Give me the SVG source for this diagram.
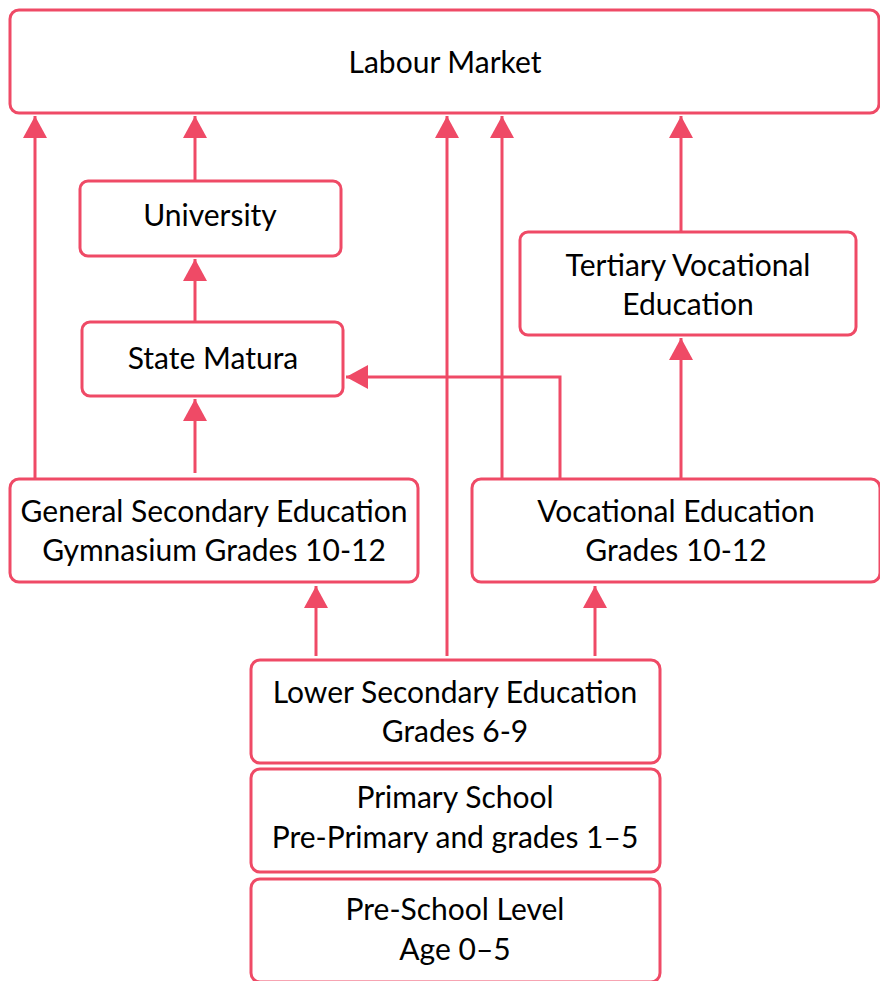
<svg xmlns="http://www.w3.org/2000/svg" width="880" height="981" viewBox="0 0 880 981">
  <style>
    .box { fill: #ffffff; stroke: #ef4a66; stroke-width: 3; }
    .lbl { font-family: "Lato", "Noto Sans", sans-serif; font-size: 30px; fill: #000000; text-anchor: middle; }
    .edge { fill: none; stroke: #ef4a66; stroke-width: 3; marker-end: url(#arrow); }
  </style>
  <defs>
    <marker id="arrow" markerUnits="userSpaceOnUse" markerWidth="24" markerHeight="24" viewBox="0 0 24 24" refX="22" refY="12" orient="auto">
      <path d="M0,0 L22,12 L0,24 Z" fill="#ef4a66"/>
    </marker>
  </defs>
  <rect width="880" height="981" fill="#ffffff"/>

  <g id="connectors">
    <path class="edge" d="M35,479 V116"/>
    <path class="edge" d="M195,181 V116"/>
    <path class="edge" d="M195,322 V259"/>
    <path class="edge" d="M195,473 V399"/>
    <path class="edge" d="M447,656 V116"/>
    <path class="edge" d="M502,479 V116"/>
    <path class="edge" d="M560,479 V377 H346"/>
    <path class="edge" d="M681,232 V116"/>
    <path class="edge" d="M681,479 V338"/>
    <path class="edge" d="M316,656 V586"/>
    <path class="edge" d="M595,656 V586"/>
  </g>

  <g id="labour-market">
    <rect class="box" x="10" y="10" width="869" height="103" rx="9"/>
    <text class="lbl" x="445" y="73">Labour Market</text>
  </g>
  <g id="university">
    <rect class="box" x="80" y="181" width="261" height="75" rx="8"/>
    <text class="lbl" x="210" y="226">University</text>
  </g>
  <g id="state-matura">
    <rect class="box" x="82" y="322" width="261" height="74" rx="8"/>
    <text class="lbl" x="213" y="369">State Matura</text>
  </g>
  <g id="tertiary-vocational">
    <rect class="box" x="520" y="232" width="336" height="103" rx="8"/>
    <text class="lbl" x="688" y="276">Tertiary Vocational</text>
    <text class="lbl" x="688" y="315">Education</text>
  </g>
  <g id="general-secondary">
    <rect class="box" x="10" y="479" width="408" height="103" rx="9"/>
    <text class="lbl" x="214" y="522">General Secondary Education</text>
    <text class="lbl" x="214" y="561">Gymnasium Grades 10-12</text>
  </g>
  <g id="vocational">
    <rect class="box" x="472" y="479" width="408" height="103" rx="9"/>
    <text class="lbl" x="676" y="522">Vocational Education</text>
    <text class="lbl" x="676" y="561">Grades 10-12</text>
  </g>
  <g id="lower-secondary">
    <rect class="box" x="251" y="660" width="409" height="103" rx="9"/>
    <text class="lbl" x="455" y="703">Lower Secondary Education</text>
    <text class="lbl" x="455" y="742">Grades 6-9</text>
  </g>
  <g id="primary">
    <rect class="box" x="251" y="769" width="409" height="103" rx="9"/>
    <text class="lbl" x="455" y="808">Primary School</text>
    <text class="lbl" x="455" y="848">Pre-Primary and grades 1–5</text>
  </g>
  <g id="pre-school">
    <rect class="box" x="251" y="879" width="409" height="103" rx="9"/>
    <text class="lbl" x="455" y="920">Pre-School Level</text>
    <text class="lbl" x="455" y="960">Age 0–5</text>
  </g>
</svg>
